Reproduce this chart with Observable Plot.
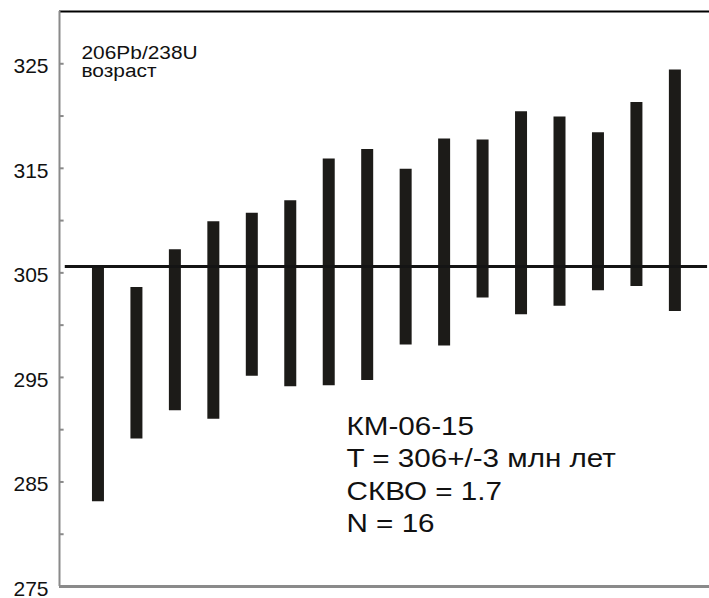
<!DOCTYPE html>
<html>
<head>
<meta charset="utf-8">
<script src="https://cdn.jsdelivr.net/npm/d3@7"></script>
<script src="https://cdn.jsdelivr.net/npm/@observablehq/plot@0.6"></script>
<style>
  html, body { margin: 0; padding: 0; background: #fff; }
  svg { display: block; }
</style>
</head>
<body>
<div id="chart"></div>
<script>
// Zircon grains, sorted by apparent 206Pb/238U age; each bar spans the 2σ interval (Ma)
const grains = [1, 2, 3, 4, 5, 6, 7, 8, 9, 10, 11, 12, 13, 14, 15, 16];
const lower = [283.1, 289.1, 291.8, 291.0, 295.1, 294.1, 294.2, 294.7, 298.1, 298.0, 302.6, 301.0, 301.8, 303.3, 303.7, 301.3];
const upper = [305.5, 303.6, 307.2, 309.9, 310.7, 311.9, 315.9, 316.8, 314.9, 317.8, 317.7, 320.4, 319.9, 318.4, 321.3, 324.4];

// Weighted mean age and summary statistics
const meanAge = 305.6;
const meanErr = 3;
const mswd = 1.7;
const sampleName = "КМ-06-15";

const majorTicks = [275, 285, 295, 305, 315, 325];
const minorTicks = [280, 285, 290, 295, 300, 305, 310, 315, 320, 325];

const bars = grains.map((g, i) => ({grain: g, lo: lower[i], hi: upper[i]}));

const summary = [
  sampleName,
  `T = ${Math.round(meanAge)}+/-${meanErr} млн лет`,
  `СКВО = ${mswd}`,
  `N = ${grains.length}`
].join("\n");

const gray = "#8a8a8a";
const ink = "#1c1b18";

const chart = Plot.plot({
  width: 709,
  height: 598,
  marginLeft: 59,
  marginRight: 0,
  marginTop: 11,
  marginBottom: 12,
  style: {fontFamily: "'Liberation Sans', Arial, sans-serif", color: "#111", background: "#fff"},
  x: {domain: [0, 16.9], axis: null},
  y: {domain: [275, 330]},
  marks: [
    // frame: gray axes at left and bottom, black line on top
    Plot.ruleY([330], {x1: 0, x2: 16.9, stroke: "#000", strokeWidth: 2}),
    Plot.ruleX([0], {y1: 275, y2: 330, stroke: gray, strokeWidth: 2}),
    Plot.ruleY([275], {x1: 0, x2: 16.9, stroke: gray, strokeWidth: 3}),
    // short inward ticks every 5 Ma
    Plot.ruleY(minorTicks, {x1: 0, x2: 0.12, stroke: gray, strokeWidth: 2}),
    Plot.axisY({
      ticks: majorTicks,
      tickSize: 0,
      tickPadding: 11,
      fontSize: 21,
      dy: 2.5,
      label: null
    }),
    // age intervals
    Plot.ruleX(bars, {x: "grain", y1: "lo", y2: "hi", stroke: ink, strokeWidth: 12}),
    // weighted mean
    Plot.ruleY([meanAge], {x1: 0.15, x2: 16.85, stroke: "#141414", strokeWidth: 3}),
    Plot.text(["206Pb/238U\nвозраст"], {
      frameAnchor: "top-left",
      dx: 22,
      dy: 34,
      lineAnchor: "top",
      textAnchor: "start",
      fontSize: 19,
      lineHeight: 0.98,
      fill: "#111"
    }),
    Plot.text([summary], {
      frameAnchor: "top-left",
      dx: 287,
      dy: 400,
      lineAnchor: "top",
      textAnchor: "start",
      fontSize: 26,
      lineHeight: 1.25,
      fill: "#111"
    })
  ]
});

// widen the two annotation blocks horizontally (scaled about their left edge)
const widen = [1.1, 1.14];
d3.select(chart).selectAll('g[aria-label="text"]').each(function(_, i) {
  const s = widen[i];
  if (!s) return;
  d3.select(this).selectAll("text").each(function() {
    const t = this.getAttribute("transform") || "";
    const x = +this.getAttribute("x") || 0;
    this.setAttribute("transform", `${t} translate(${x},0) scale(${s},1) translate(${-x},0)`);
  });
});

document.getElementById("chart").appendChild(chart);
</script>
</body>
</html>
